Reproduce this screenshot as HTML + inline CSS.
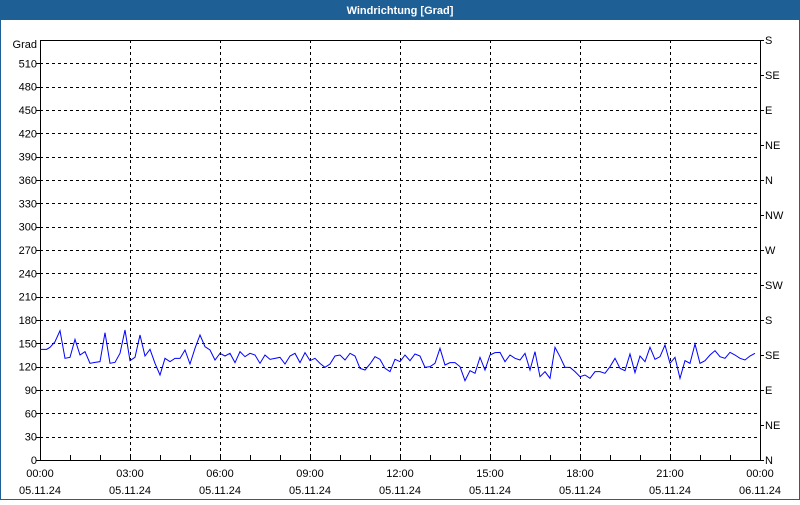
<!DOCTYPE html>
<html><head><meta charset="utf-8"><style>
html,body{margin:0;padding:0;background:#fff}
body{width:800px;height:500px;overflow:hidden}
svg text{font-family:"Liberation Sans",sans-serif;font-size:11px;fill:#000}
</style></head><body>
<svg width="800" height="500" viewBox="0 0 800 500" xmlns="http://www.w3.org/2000/svg">
<rect x="0" y="0" width="800" height="500" fill="#fff"/>
<rect x="0.5" y="0.5" width="799" height="499" fill="none" stroke="#1e5f96"/>
<rect x="0" y="0" width="800" height="20" fill="#1e5f96"/>
<text x="400" y="14" text-anchor="middle" style="fill:#fff;font-weight:bold;font-size:11px">Windrichtung [Grad]</text>
<g id="grid" stroke="#000" stroke-dasharray="3,3" stroke-width="1"></g>
<rect x="40.5" y="40.5" width="720" height="420" fill="none" stroke="#000"/>
<g id="ticks" stroke="#000"></g>
<g id="lab"></g>
<g transform="translate(0,320) scale(0.33333)">
<polyline fill="none" stroke="#0000ff" stroke-width="1" vector-effect="non-scaling-stroke" points="120,88 140,88 150,82 165,65 180,32 195,115 210,112 225,58 240,105 255,95 270,130 285,127 300,125 315,38 330,130 345,127 360,100 375,30 390,122 405,112 420,45 435,108 450,88 465,130 480,165 495,115 510,125 525,115 540,115 555,90 570,132 585,85 600,45 615,80 630,90 645,120 660,100 675,108 690,100 705,128 720,95 735,110 750,100 765,105 780,130 795,105 810,118 825,115 840,112 855,132 870,108 885,100 900,128 915,98 930,122 945,115 960,130 975,142 990,132 1005,108 1020,105 1035,120 1050,100 1065,108 1080,145 1095,150 1110,132 1125,110 1140,118 1155,145 1170,155 1185,118 1200,125 1215,105 1230,122 1245,102 1260,108 1275,142 1290,140 1305,130 1320,85 1335,135 1350,128 1365,128 1380,140 1395,182 1410,152 1425,160 1440,112 1455,150 1470,105 1485,98 1500,97 1515,125 1530,105 1545,115 1560,120 1575,100 1590,150 1605,95 1620,170 1635,155 1650,175 1665,82 1680,110 1695,142 1710,142 1725,155 1740,170 1755,165 1770,175 1785,155 1800,155 1815,160 1830,140 1845,115 1860,145 1875,152 1890,102 1905,158 1920,108 1935,125 1950,82 1965,118 1980,110 1995,75 2010,130 2025,112 2040,175 2055,122 2070,130 2085,72 2100,130 2115,122 2130,105 2145,92 2160,110 2175,115 2190,97 2205,105 2220,115 2235,120 2250,108 2265,100"/>
</g>
</svg>
<script>
var ns="http://www.w3.org/2000/svg";
function el(p,t,a,txt){var e=document.createElementNS(ns,t);for(var k in a)e.setAttribute(k,a[k]);if(txt!=null)e.textContent=txt;document.getElementById(p).appendChild(e);}
for(var v=30;v<=510;v+=30){var y=Math.round(460-v*420/540)+0.5;el('grid','line',{x1:40,x2:760,y1:y,y2:y});}
for(var i=1;i<8;i++){var x=40+i*90+0.5;el('grid','line',{x1:x,x2:x,y1:40,y2:460});}
for(var v=0;v<=510;v+=30){var y=460-v*420/540;el('lab','text',{x:37,y:y+4,'text-anchor':'end'},String(v));el('ticks','line',{x1:36,x2:40,y1:Math.round(y)+0.5,y2:Math.round(y)+0.5});}
el('lab','text',{x:37,y:48,'text-anchor':'end'},'Grad');
var c=['N','NE','E','SE','S','SW','W','NW','N','NE','E','SE','S'];
for(var i=0;i<13;i++){var y=460-i*35;el('lab','text',{x:765,y:y+4},c[i]);el('ticks','line',{x1:760,x2:764,y1:y+0.5,y2:y+0.5});}
for(var h=0;h<=24;h++){var x=40+h*30+0.5;el('ticks','line',{x1:x,x2:x,y1:455,y2:460});}
var t=['00:00','03:00','06:00','09:00','12:00','15:00','18:00','21:00','00:00'];
for(var i=0;i<9;i++){var x=40+i*90;el('lab','text',{x:x,y:477,'text-anchor':'middle'},t[i]);el('lab','text',{x:x,y:494,'text-anchor':'middle'},i==8?'06.11.24':'05.11.24');}
</script>
</body></html>
